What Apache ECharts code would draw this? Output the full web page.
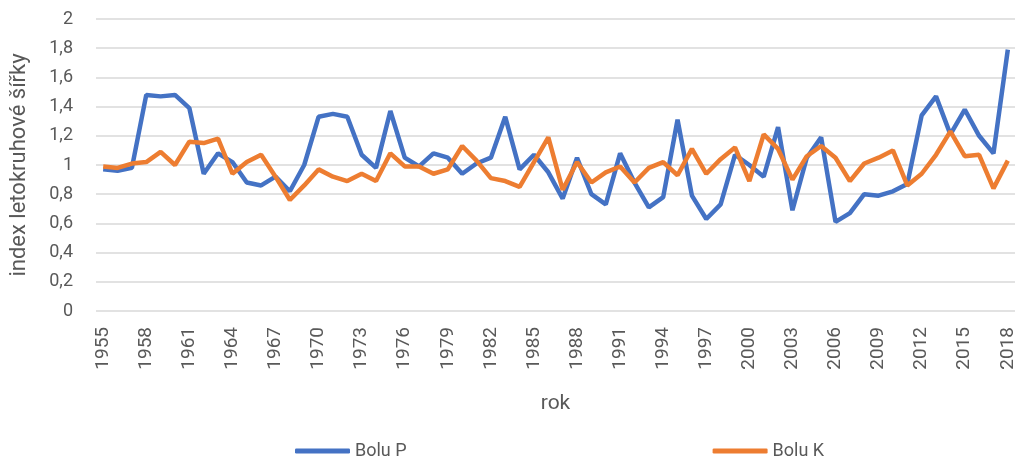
<!DOCTYPE html>
<html><head><meta charset="utf-8">
<script src="https://cdn.jsdelivr.net/npm/echarts@6/dist/echarts.min.js"></script>
<style>html,body{margin:0;padding:0;background:#fff}#c{width:1020px;height:458px}</style>
</head><body><div id="c"></div>
<script>
const years = [];
for (let y = 1955; y <= 2018; y++) years.push(String(y));
const boluP = [0.97,0.96,0.98,1.48,1.47,1.48,1.39,0.94,1.08,1.02,0.88,0.86,0.92,0.82,1.00,1.33,1.35,1.33,1.07,0.98,1.37,1.05,0.99,1.08,1.05,0.94,1.01,1.05,1.33,0.97,1.07,0.95,0.77,1.05,0.80,0.73,1.08,0.88,0.71,0.78,1.31,0.79,0.63,0.73,1.07,1.00,0.92,1.26,0.69,1.05,1.19,0.61,0.67,0.80,0.79,0.82,0.87,1.34,1.47,1.21,1.38,1.20,1.08,1.79];
const boluK = [0.99,0.98,1.01,1.02,1.09,1.00,1.16,1.15,1.18,0.94,1.02,1.07,0.92,0.76,0.86,0.97,0.92,0.89,0.94,0.89,1.08,0.99,0.99,0.94,0.97,1.13,1.03,0.91,0.89,0.85,1.02,1.19,0.83,1.02,0.88,0.95,0.99,0.88,0.98,1.02,0.93,1.11,0.94,1.04,1.12,0.89,1.21,1.11,0.90,1.06,1.13,1.05,0.89,1.01,1.05,1.10,0.86,0.94,1.07,1.23,1.06,1.07,0.84,1.03];
const FONT = '"Roboto", "Noto Sans", sans-serif';
const chart = echarts.init(document.getElementById('c'), null, {renderer:'canvas'});
chart.setOption({
  animation: false,
  textStyle: {fontFamily: FONT, color: '#595959'},
  grid: {left: 96, right: 5, top: 19, bottom: 147, containLabel: false},
  legend: {
    left: 290, top: 437, itemGap: 306, icon: 'roundRect', itemWidth: 55, itemHeight: 5,
    textStyle: {fontFamily: FONT, fontSize: 18, color: '#595959'},
    data: ['Bolu P', 'Bolu K']
  },
  xAxis: {
    type: 'category', data: years, boundaryGap: true,
    name: 'rok', nameLocation: 'middle', nameGap: 82,
    nameTextStyle: {fontFamily: FONT, fontSize: 21, color: '#595959'},
    axisLine: {show: false}, axisTick: {show: false},
    axisLabel: {interval: 2, rotate: 90, fontSize: 19, color: '#595959', fontFamily: FONT, margin: 16}
  },
  yAxis: {
    type: 'value', min: 0, max: 2, interval: 0.2,
    name: 'index letokruhové šířky', nameLocation: 'middle', nameGap: 66, nameRotate: 90,
    nameTextStyle: {fontFamily: FONT, fontSize: 22, color: '#595959'},
    axisLine: {show: false}, axisTick: {show: false},
    axisLabel: {fontSize: 18, color: '#595959', fontFamily: FONT, margin: 23,
      formatter: v => (Math.round(v*10)/10).toString().replace('.', ',')},
    splitLine: {lineStyle: {color: '#d9d9d9', width: 1.5}}
  },
  series: [
    {name: 'Bolu P', type: 'line', data: boluP, showSymbol: false, symbol: 'none',
     lineStyle: {color: '#4472C4', width: 4.5}, itemStyle: {color: '#4472C4'}},
    {name: 'Bolu K', type: 'line', data: boluK, showSymbol: false, symbol: 'none',
     lineStyle: {color: '#ED7D31', width: 4.5}, itemStyle: {color: '#ED7D31'}}
  ]
});
</script></body></html>
